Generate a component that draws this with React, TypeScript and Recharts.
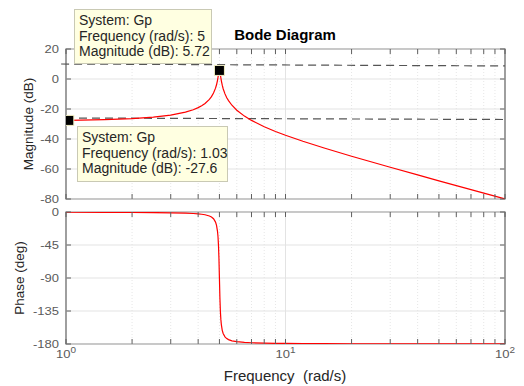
import React from 'react';
import {
  ComposedChart,
  Line,
  Scatter,
  XAxis,
  YAxis,
  ReferenceLine,
  ReferenceArea,
} from 'recharts';

// frequencies (rad/s)
const FREQ = [
  1, 1.03, 1.5, 2, 2.5, 3, 3.5, 3.8, 4, 4.15, 4.3, 4.5, 4.6, 4.7, 4.8, 4.85, 4.9, 4.925, 4.95,
  4.975, 5, 5.025, 5.05, 5.075, 5.1, 5.15, 5.2, 5.3, 5.4, 5.5, 5.7, 6, 6.5, 7, 8, 9, 10, 12,
  15, 20, 30, 40, 50, 70, 100,
];

// magnitude (dB)
const MAG_DB = [
  -27.6, -27.58, -27.14, -26.44, -25.46, -24.08, -22.11, -20.47, -19.09, -17.82, -16.29,
  -13.57, -11.75, -9.39, -6.1, -3.84, -0.86, 0.99, 3.08, 5.09, 5.72, 5.01, 2.94, 0.82, -1.07,
  -4.12, -6.47, -9.93, -12.46, -14.4, -17.49, -20.83, -24.74, -27.6, -31.82, -34.96, -37.5,
  -41.51, -46.02, -51.48, -58.84, -63.95, -67.87, -73.76, -79.98,
];

// phase (deg)
const PHASE_DEG = [
  -0.24, -0.25, -0.38, -0.55, -0.76, -1.07, -1.57, -2.06, -2.54, -3.05, -3.78, -5.41, -6.83,
  -9.17, -13.76, -18.17, -26.33, -33.49, -44.86, -63.37, -90, -116.5, -134.86, -146.11,
  -153.21, -161.31, -165.7, -170.27, -172.6, -174.02, -175.65, -176.88, -177.84, -178.33,
  -178.82, -179.08, -179.24, -179.42, -179.57, -179.69, -179.8, -179.85, -179.88, -179.92,
  -179.94,
];

const MAG_TICKS = [-80, -60, -40, -20, 0, 20];
const PHASE_TICKS = [-180, -135, -90, -45, 0];
const DECADES = [1, 10, 100];
const MINOR_FREQ = [2, 3, 4, 5, 6, 7, 8, 9, 20, 30, 40, 50, 60, 70, 80, 90];

// data tips
const TIP_POINTS = [
  { f: 1.03, mag: -27.6 },
  { f: 5, mag: 5.72 },
];
const TIP_TEXT = [
  ['System: Gp', 'Frequency (rad/s): 5', 'Magnitude (dB): 5.72'],
  ['System: Gp', 'Frequency (rad/s): 1.03', 'Magnitude (dB): -27.6'],
];
const TIP_GUIDES = [
  [{ x: 0.95, y: 10 }, { x: 100, y: 8.7 }],
  [{ x: 1, y: -26 }, { x: 100, y: -27 }],
];

const FONT = '"Liberation Sans", Arial, Helvetica, sans-serif';
const W = 524;
const H = 386;
const PLOT_W = 439;
const Y_AXIS_W = 40;
const X_AXIS_H = 20;
// plot areas: x 66..505, magnitude y 49..199, phase y 212..344
const TOP = { top: 49, right: 19, bottom: 187 - X_AXIS_H, left: 66 - Y_AXIS_W };
const BOT = { top: 212, right: 19, bottom: 42 - X_AXIS_H, left: 66 - Y_AXIS_W };
const BOX = '#5f5f5f';
const TICK_TEXT = '#5a5a5a';
const GRID = '#e3e3e3';

const magData = FREQ.map((f, i) => ({ f, mag: MAG_DB[i] }));
const phaseData = FREQ.map((f, i) => ({ f, phase: PHASE_DEG[i] }));
const allFreqTicks = [...DECADES, ...MINOR_FREQ].sort((a, b) => a - b);

const FreqTick = (props: any) => {
  const { x, y, payload, plotH, labels } = props;
  const v = payload.value;
  const exp = DECADES.indexOf(v);
  return (
    <g>
      <line x1={x} x2={x} y1={y} y2={y - 5} stroke={BOX} strokeWidth={1} />
      <line x1={x} x2={x} y1={y - plotH} y2={y - plotH + 5} stroke={BOX} strokeWidth={1} />
      {labels && exp >= 0 && (
        <text
          transform={`translate(${x},${y + 14}) scale(1,0.88)`}
          textAnchor="middle"
          fill={TICK_TEXT}
          fontSize={13}
          fontFamily={FONT}
        >
          10
          <tspan dy={-6} fontSize={10}>{exp}</tspan>
        </text>
      )}
    </g>
  );
};

const ValueTick = (props: any) => {
  const { x, y, payload } = props;
  return (
    <g>
      <line x1={x} x2={x + 5} y1={y} y2={y} stroke={BOX} strokeWidth={1} />
      <line x1={x + PLOT_W} x2={x + PLOT_W - 5} y1={y} y2={y} stroke={BOX} strokeWidth={1} />
      <text
        transform={`translate(${x - 7},${y + 4}) scale(1,0.82)`}
        textAnchor="end"
        fill={TICK_TEXT}
        fontSize={13}
        fontFamily={FONT}
      >
        {payload.value}
      </text>
    </g>
  );
};

const SquareMarker = (props: any) => {
  const { cx, cy } = props;
  return <rect x={cx - 5} y={cy - 5} width={10} height={10} fill="#000" stroke="#f2efc4" strokeWidth={1} />;
};

export default function App() {
  const renderGrid = (ticks: number[]) => [
    ...MINOR_FREQ.map((f) => (
      <ReferenceLine key={'m' + f} x={f} stroke="#e6e6e6" strokeDasharray="1 2" />
    )),
    <ReferenceLine key="d10" x={10} stroke={GRID} />,
    ...ticks.map((t) => <ReferenceLine key={'h' + t} y={t} stroke={GRID} />),
  ];

  return (
    <div
      style={{
        position: 'absolute',
        left: 0,
        top: 0,
        width: W,
        height: H,
        background: '#fff',
        overflow: 'hidden',
        fontFamily: FONT,
      }}
    >
      <div style={{ position: 'absolute', left: 0, top: 0 }}>
        <ComposedChart width={W} height={H} data={magData} margin={TOP}>
          <XAxis
            dataKey="f"
            type="number"
            scale="log"
            domain={[1, 100]}
            ticks={allFreqTicks}
            interval={0}
            height={X_AXIS_H}
            axisLine={false}
            tickLine={false}
            tickSize={0}
            tickMargin={0}
            tick={(p: any) => <FreqTick {...p} plotH={150} labels={false} />}
            allowDataOverflow
          />
          <YAxis
            type="number"
            domain={[-80, 20]}
            ticks={MAG_TICKS}
            interval={0}
            width={Y_AXIS_W}
            axisLine={false}
            tickLine={false}
            tickSize={0}
            tickMargin={0}
            tick={(p: any) => <ValueTick {...p} />}
            allowDataOverflow
          />
          {renderGrid(MAG_TICKS)}
          <ReferenceArea x1={1} x2={100} y1={-80} y2={20} fill="none" fillOpacity={0} stroke={BOX} strokeWidth={1.2} />
          {TIP_GUIDES.map((seg, i) => (
            <ReferenceLine
              key={'g' + i}
              segment={seg}
              stroke="#555"
              strokeWidth={1.2}
              strokeDasharray="8 5"
              ifOverflow="visible"
            />
          ))}
          <Line
            dataKey="mag"
            type="linear"
            stroke="#ff0000"
            strokeWidth={1.2}
            dot={false}
            isAnimationActive={false}
          />
          <Scatter data={TIP_POINTS} dataKey="mag" shape={SquareMarker} isAnimationActive={false} />
        </ComposedChart>
      </div>

      <div style={{ position: 'absolute', left: 0, top: 0 }}>
        <ComposedChart width={W} height={H} data={phaseData} margin={BOT}>
          <XAxis
            dataKey="f"
            type="number"
            scale="log"
            domain={[1, 100]}
            ticks={allFreqTicks}
            interval={0}
            height={X_AXIS_H}
            axisLine={false}
            tickLine={false}
            tickSize={0}
            tickMargin={0}
            tick={(p: any) => <FreqTick {...p} plotH={132} labels />}
            allowDataOverflow
          />
          <YAxis
            type="number"
            domain={[-180, 0]}
            ticks={PHASE_TICKS}
            interval={0}
            width={Y_AXIS_W}
            axisLine={false}
            tickLine={false}
            tickSize={0}
            tickMargin={0}
            tick={(p: any) => <ValueTick {...p} />}
            allowDataOverflow
          />
          {renderGrid(PHASE_TICKS)}
          <ReferenceArea x1={1} x2={100} y1={-180} y2={0} fill="none" fillOpacity={0} stroke={BOX} strokeWidth={1.2} />
          <Line
            dataKey="phase"
            type="linear"
            stroke="#ff0000"
            strokeWidth={1.2}
            dot={false}
            isAnimationActive={false}
          />
        </ComposedChart>
      </div>

      <svg width={W} height={H} style={{ position: 'absolute', left: 0, top: 0, pointerEvents: 'none' }}>
        <text x={285} y={40} textAnchor="middle" fontSize={15} fontWeight="bold" fill="#000" fontFamily={FONT}>
          Bode Diagram
        </text>
        <text
          transform="translate(33,124) rotate(-90)"
          textAnchor="middle"
          fontSize={13.5}
          fill="#262626"
          fontFamily={FONT}
        >
          Magnitude (dB)
        </text>
        <text
          transform="translate(24,278) rotate(-90)"
          textAnchor="middle"
          fontSize={13.5}
          fill="#262626"
          fontFamily={FONT}
        >
          Phase (deg)
        </text>
        <text
          x={285}
          y={381}
          textAnchor="middle"
          fontSize={15}
          fill="#262626"
          fontFamily={FONT}
          style={{ whiteSpace: 'pre' }}
        >
          Frequency  (rad/s)
        </text>
      </svg>

      {TIP_TEXT.map((lines, i) => (
        <div
          key={'tip' + i}
          style={{
            position: 'absolute',
            left: i === 0 ? 74 : 77,
            top: i === 0 ? 9 : 126,
            width: i === 0 ? 138 : 151,
            height: i === 0 ? 55 : 56,
            boxSizing: 'border-box',
            background: '#ffffe1',
            border: '1px solid #c9c9b4',
            padding: '3px 0 0 4px',
            fontSize: 14,
            lineHeight: '15.5px',
            color: '#262626',
            whiteSpace: 'nowrap',
          }}
        >
          {lines.map((l, j) => (
            <div key={j}>{l}</div>
          ))}
        </div>
      ))}
    </div>
  );
}
